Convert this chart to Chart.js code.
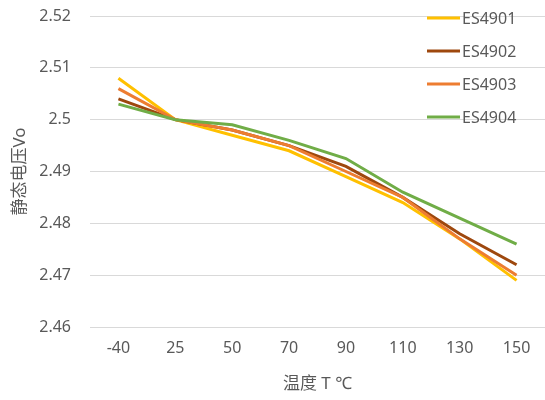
<!DOCTYPE html>
<html>

<head>
    <title>静态电压 vs 温度</title>
    <script src="https://cdn.jsdelivr.net/npm/chart.js"></script>
    <style type="text/css">
        body {
            margin: 0;
            background: #fff;
        }

        .chart-box {
            position: relative;
            width: 545px;
            height: 400px;
        }
    </style>
</head>

<body>
    <div class="chart-box">
        <canvas id="myChart"></canvas>
    </div>

    <script>
        const temps = ['-40', '25', '50', '70', '90', '110', '130', '150'];
        const seriesNames = ['ES4901', 'ES4902', 'ES4903', 'ES4904'];
        const es4901 = [2.508, 2.500, 2.497, 2.494, 2.489, 2.484, 2.477, 2.469];
        const es4902 = [2.504, 2.500, 2.498, 2.495, 2.491, 2.485, 2.478, 2.472];
        const es4903 = [2.506, 2.500, 2.498, 2.495, 2.490, 2.485, 2.477, 2.470];
        const es4904 = [2.503, 2.500, 2.499, 2.496, 2.4925, 2.486, 2.481, 2.476];
        const yTicks = [2.46, 2.47, 2.48, 2.49, 2.5, 2.51, 2.52];

        const colors = ['#FFC000', '#9E480E', '#ED7D31', '#70AD47'];
        const fontFamily = "'Noto Sans', 'Noto Sans CJK SC', sans-serif";
        const textColor = '#595959';

        // legend drawn inside the plot, top right, like the Excel original
        const innerLegend = {
            id: 'innerLegend',
            afterDatasetsDraw(chart) {
                const ctx = chart.ctx;
                ctx.save();
                ctx.font = '16px ' + fontFamily;
                ctx.textBaseline = 'middle';
                chart.data.datasets.forEach((ds, i) => {
                    const y = 18 + i * 33;
                    ctx.strokeStyle = ds.borderColor;
                    ctx.lineWidth = 3;
                    ctx.beginPath();
                    ctx.moveTo(427, y);
                    ctx.lineTo(460, y);
                    ctx.stroke();
                    ctx.fillStyle = textColor;
                    ctx.fillText(ds.label, 462, y + 1);
                });
                ctx.restore();
            }
        };

        const allData = [es4901, es4902, es4903, es4904];
        const datasets = [];
        for (let i = 0; i < seriesNames.length; i++) {
            datasets.push({
                label: seriesNames[i],
                data: allData[i],
                borderColor: colors[i],
                backgroundColor: colors[i],
                borderWidth: 3,
                pointRadius: 0,
                tension: 0,
                order: seriesNames.length - i
            });
        }

        var ctx = document.getElementById('myChart').getContext('2d');
        var myChart = new Chart(ctx, {
            type: 'line',
            data: {
                labels: temps,
                datasets: datasets
            },
            options: {
                responsive: true,
                maintainAspectRatio: false,
                animation: false,
                layout: {
                    padding: { top: 16, right: 0, bottom: 6, left: 10 }
                },
                plugins: {
                    legend: { display: false },
                    tooltip: { enabled: false }
                },
                scales: {
                    x: {
                        offset: true,
                        grid: { display: false, drawTicks: false },
                        border: { display: true, color: '#d9d9d9' },
                        ticks: {
                            color: textColor,
                            font: { family: fontFamily, size: 16 },
                            padding: 12,
                            maxRotation: 0
                        },
                        title: {
                            display: true,
                            text: '温度 T ℃',
                            color: textColor,
                            font: { family: fontFamily, size: 17 },
                            padding: { top: 2, bottom: 0 }
                        },
                        afterFit(axis) { axis.height = 67; }
                    },
                    y: {
                        min: 2.46,
                        max: 2.52,
                        afterBuildTicks(axis) {
                            axis.ticks = yTicks.map(v => ({ value: v }));
                        },
                        grid: { color: '#d9d9d9', lineWidth: 1, drawTicks: false },
                        border: { display: false },
                        ticks: {
                            color: textColor,
                            font: { family: fontFamily, size: 16 },
                            padding: 19,
                            callback: v => String(Math.round(v * 100) / 100)
                        },
                        title: {
                            display: true,
                            text: '静态电压Vo',
                            color: textColor,
                            font: { family: fontFamily, size: 17 },
                            padding: { top: 0, bottom: 4 }
                        },
                        afterFit(axis) {
                            axis.width = 80;
                            axis.paddingTop = 0;
                            axis.paddingBottom = 0;
                        }
                    }
                }
            },
            plugins: [innerLegend]
        });
    </script>
</body>

</html>
